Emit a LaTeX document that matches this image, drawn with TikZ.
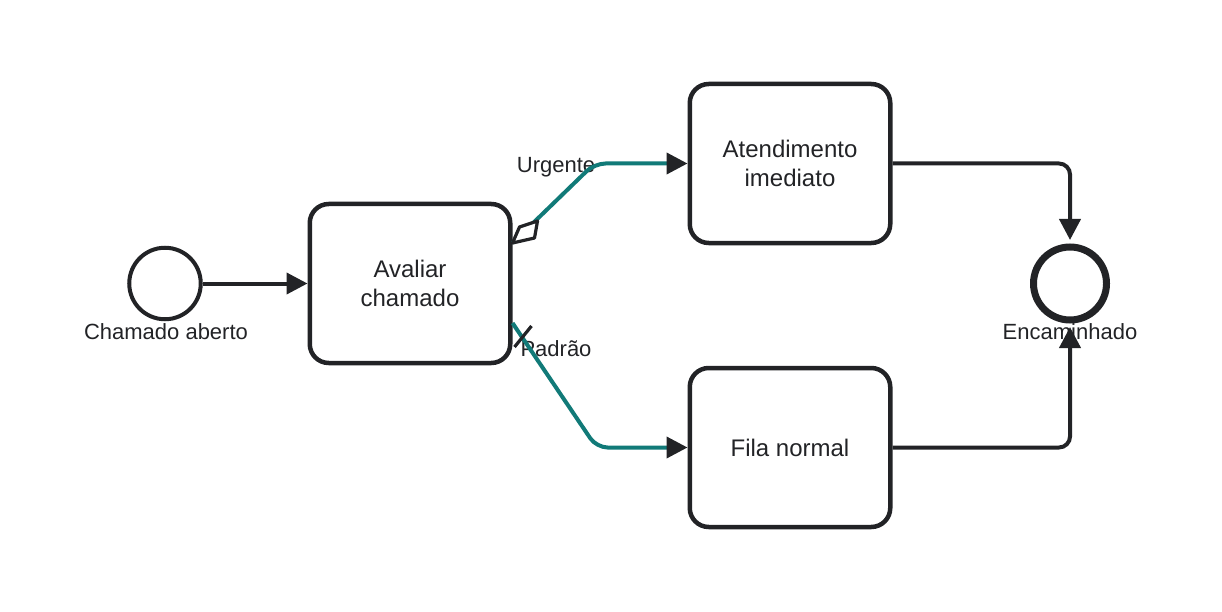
\documentclass[tikz,border=0pt]{standalone}
\usepackage{fontspec}
\setmainfont{Liberation Sans}
\usetikzlibrary{arrows.meta,calc}
\definecolor{ink}{HTML}{222326}
\definecolor{tealflow}{RGB}{17,122,120}
\begin{document}
\begin{tikzpicture}[x=1pt,y=-1pt,
 task/.style={draw=ink,line width=4.5pt,rounded corners=19pt,minimum width=200.5pt,minimum height=159pt,align=center,font=\fontsize{24}{29}\selectfont,text=ink,inner sep=0pt},
 startev/.style={circle,draw=ink,line width=4pt,minimum size=71.5pt,inner sep=0pt},
 endev/.style={circle,draw=ink,line width=7pt,minimum size=73pt,inner sep=0pt},
 lbl/.style={font=\fontsize{22}{26}\selectfont,text=ink,inner sep=0pt},
 flow/.style={draw=ink,line width=4pt,-{Triangle[length=21pt,width=21pt,color=ink]},rounded corners=11pt},
 cflow/.style={flow,draw=tealflow},
 marker/.style={draw=ink,line width=3.2pt,line join=round},
 ]
\useasboundingbox (0,0) rectangle (1222,612);
% nodes
\node[startev] (s) at (165,283.5) {};
\node[lbl] (sl) at (166,332) {Chamado aberto};
\node[task] (t1) at (410,283.5) {Avaliar\\chamado};
\node[task] (t2) at (790,163.5) {Atendimento\\imediato};
\node[task] (t3) at (790,447.5) {Fila normal};
\node[lbl] (el) at (1070,332) {Encaminhado};
\node[endev] (e) at (1070,283.5) {};
% labels of flows
\node[lbl] (lu) at (556,167) {Urgente};
\node[lbl] (lp) at (556,349) {Padrão};
% flows
\draw[flow] (s) -- (t1);
\coordinate (u0) at ($(t1.east)+(0,-40.5)$);
\coordinate (d0) at ($(t1.east)+(0,39.5)$);
\draw[cflow] (u0) -- ($(t2.west)+(-93,0)$) -- (t2.west);
\draw[marker,fill=white] (u0) -- ++(22,-5) -- ++(3,-17) -- ++(-18,6) -- cycle;
\draw[cflow] (d0) -- ($(t3.west)+(-91,0)$) -- (t3.west);
\draw[marker] ($(d0)+(2,24)$) -- ++(17,-21);
\draw[flow,shorten >=3.5pt] (t2.east) -- (t2.east -| e) -- (e.north);
\draw[flow,shorten >=3.5pt] (t3.east) -- (t3.east -| e) -- (e.south);
\end{tikzpicture}
\end{document}
